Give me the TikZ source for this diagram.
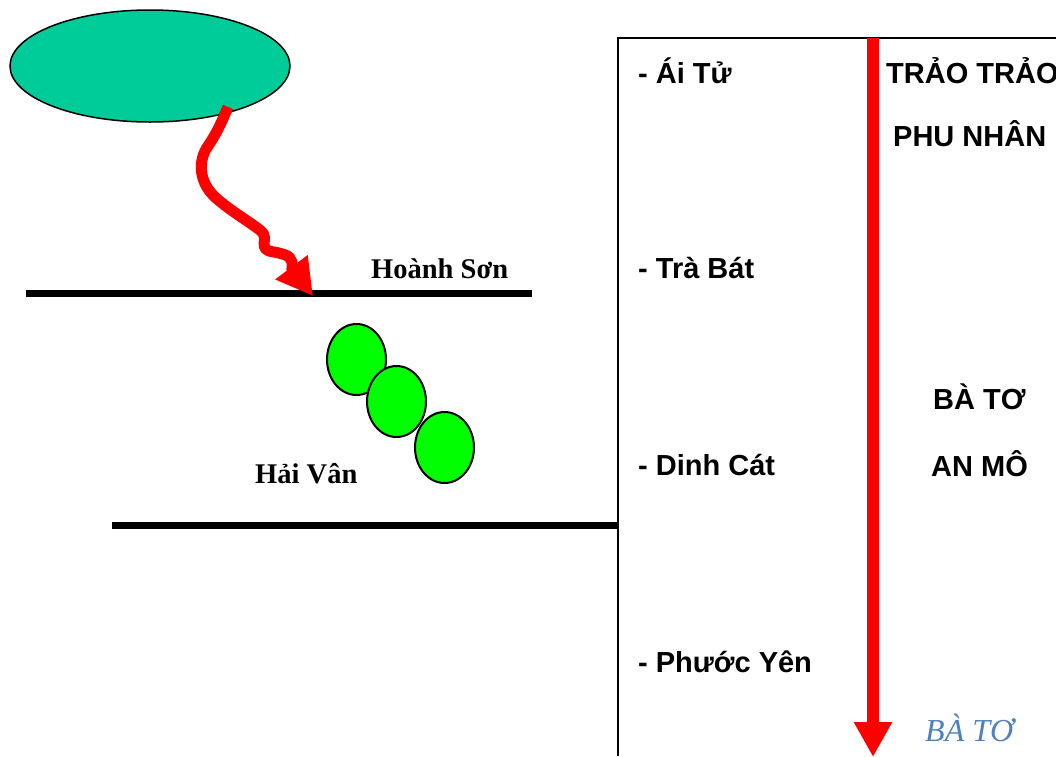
\documentclass[tikz,border=0pt]{standalone}
\usepackage{fontspec}
\setmainfont{Liberation Serif}
\newfontfamily\arialf{Liberation Sans}
\usetikzlibrary{shapes.geometric,arrows.meta}
\definecolor{teal1}{HTML}{00CC99}
\definecolor{green1}{HTML}{00FF00}
\definecolor{blue1}{RGB}{79,129,189}
\tikzset{
  sanslabel/.style={anchor=base west,inner sep=0pt,font=\arialf\bfseries\fontsize{29}{34}\selectfont},
  seriflabel/.style={anchor=base west,inner sep=0pt,font=\bfseries\fontsize{28.5}{34}\selectfont},
  ball/.style={ellipse,draw=black,line width=2pt,fill=green1,minimum width=59pt,minimum height=71pt,inner sep=0pt},
  ridge/.style={line width=7pt,black},
  redarrow/.style={red,line width=11pt}
}
\begin{document}
\begin{tikzpicture}[x=1pt,y=-1pt]
\useasboundingbox (0,0) rectangle (1056,756);
% big ellipse
\node[ellipse,draw=black,line width=1.5pt,fill=teal1,minimum width=280pt,minimum height=112pt,inner sep=0pt] (cloud) at (150,66) {};
% ridges
\coordinate (hs1) at (26,293);
\coordinate (hs2) at (532,293);
\draw[ridge] (hs1) -- (hs2);
\coordinate (hv1) at (112,525);
\coordinate (hv2) at (619,525);
\draw[ridge] (hv1) -- (hv2);
% box
\coordinate (bx1) at (618,756);
\coordinate (bx2) at (618,38);
\coordinate (bx3) at (1056,38);
\draw[line width=1.5pt] (bx1) -- (bx2) -- (bx3);
% wavy arrow
\coordinate (wstart) at (228,107);
\coordinate (wtip) at (313,296);
\draw[redarrow,-{Triangle[width=38pt,length=36pt]}] (wstart)
  .. controls (220,126) and (216,134) .. (208,146)
  .. controls (198,160) and (198,182) .. (216,198)
  .. controls (232,212) and (250,222) .. (261,231)
  .. controls (270,238) and (256,250) .. (274,252)
  .. controls (290,255) and (293,258) .. (292,268)
  -- (wtip);
% balls
\node[ball] (b1) at (356.5,359.5) {};
\node[ball] (b2) at (396.5,401.5) {};
\node[ball] (b3) at (444.5,447.5) {};
% labels left
\node[seriflabel] (hson) at (371,278) {Hoành Sơn};
\node[seriflabel] (hvan) at (255,483) {Hải Vân};
% vertical arrow
\coordinate (vtop) at (873,38);
\coordinate (vtip) at (873,757);
\draw[redarrow,line width=12pt,-{Triangle[width=36pt,length=35pt]}] (vtop) -- (vtip);
% list
\node[sanslabel] (l1) at (638,83) {- Ái Tử};
\node[sanslabel] (l2) at (638,278) {- Trà Bát};
\node[sanslabel] (l3) at (638,475) {- Dinh Cát};
\node[sanslabel] (l4) at (638,672) {- Phước Yên};
% right column
\node[sanslabel] (r1) at (886,83) {TRẢO TRẢO};
\node[sanslabel] (r2) at (893,146) {PHU NHÂN};
\node[sanslabel] (r3) at (933,409) {BÀ TƠ};
\node[sanslabel] (r4) at (931,476) {AN MÔ};
\node[anchor=base west,inner sep=0pt,font=\itshape\fontsize{32}{36}\selectfont,text=blue1] (r5) at (925,741) {BÀ TƠ};
\end{tikzpicture}
\end{document}
